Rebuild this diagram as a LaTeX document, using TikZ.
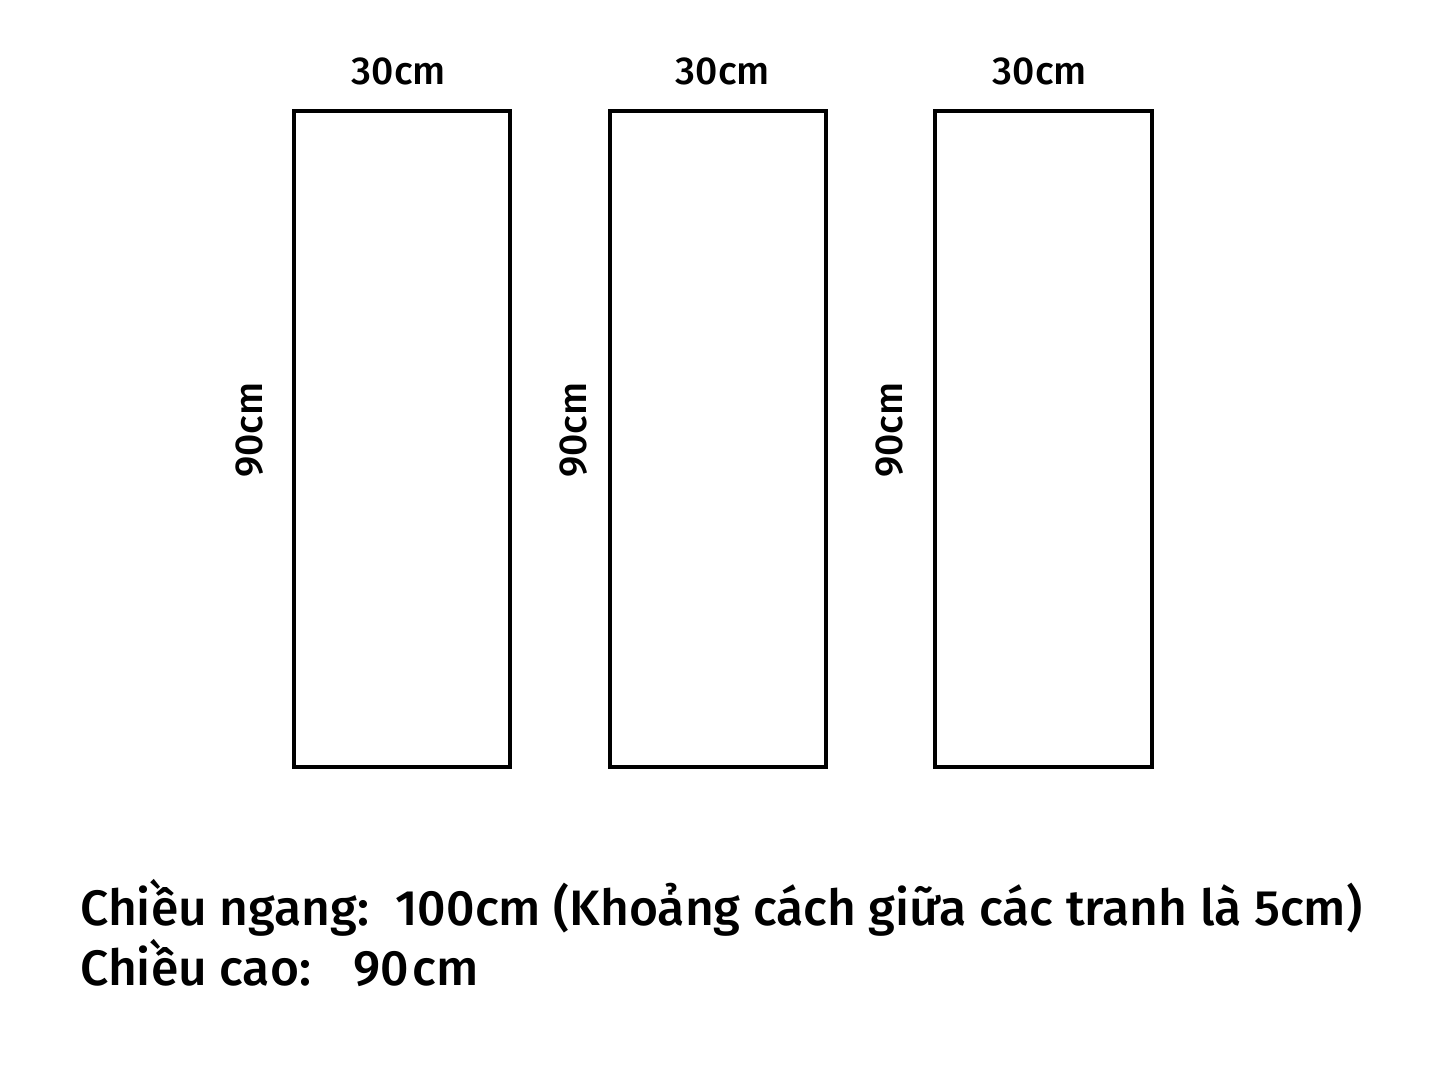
\documentclass[tikz,border=0pt]{standalone}
\usepackage{fontspec}
\setmainfont{Fira Sans}[UprightFont=* Medium]
\begin{document}
\begin{tikzpicture}[x=1pt,y=-1pt,
  panel/.style={draw=black,line width=4pt},
  dimlabel/.style={font=\fontsize{39}{41}\selectfont,inner sep=0pt,anchor=base},
  vlabel/.style={dimlabel,rotate=90},
  infotext/.style={font=\fontsize{49.8}{54}\selectfont,inner sep=0pt,anchor=base west}]
\useasboundingbox[fill=white] (0,0) rectangle (1445,1084);
\draw[panel] (294,111) rectangle (510,767);
\draw[panel] (610,111) rectangle (826,767);
\draw[panel] (935,111) rectangle (1152,767);
\node[dimlabel] (w1) at (399,84) {30cm};
\node[dimlabel] (w2) at (723,84) {30cm};
\node[dimlabel] (w3) at (1040,84) {30cm};
\node[vlabel] (h1) at (262,430) {90cm};
\node[vlabel] (h2) at (586,430) {90cm};
\node[vlabel] (h3) at (902,430) {90cm};
\node[infotext] (l1) at (80,925) {Chiều ngang:\hspace{10pt} 100cm (Khoảng cách giữa các tranh là 5cm)};
\node[infotext] (l2) at (80,985) {Chiều cao:};
\node[infotext] (l3) at (353,985) {90\kern4pt cm};
\end{tikzpicture}
\end{document}
